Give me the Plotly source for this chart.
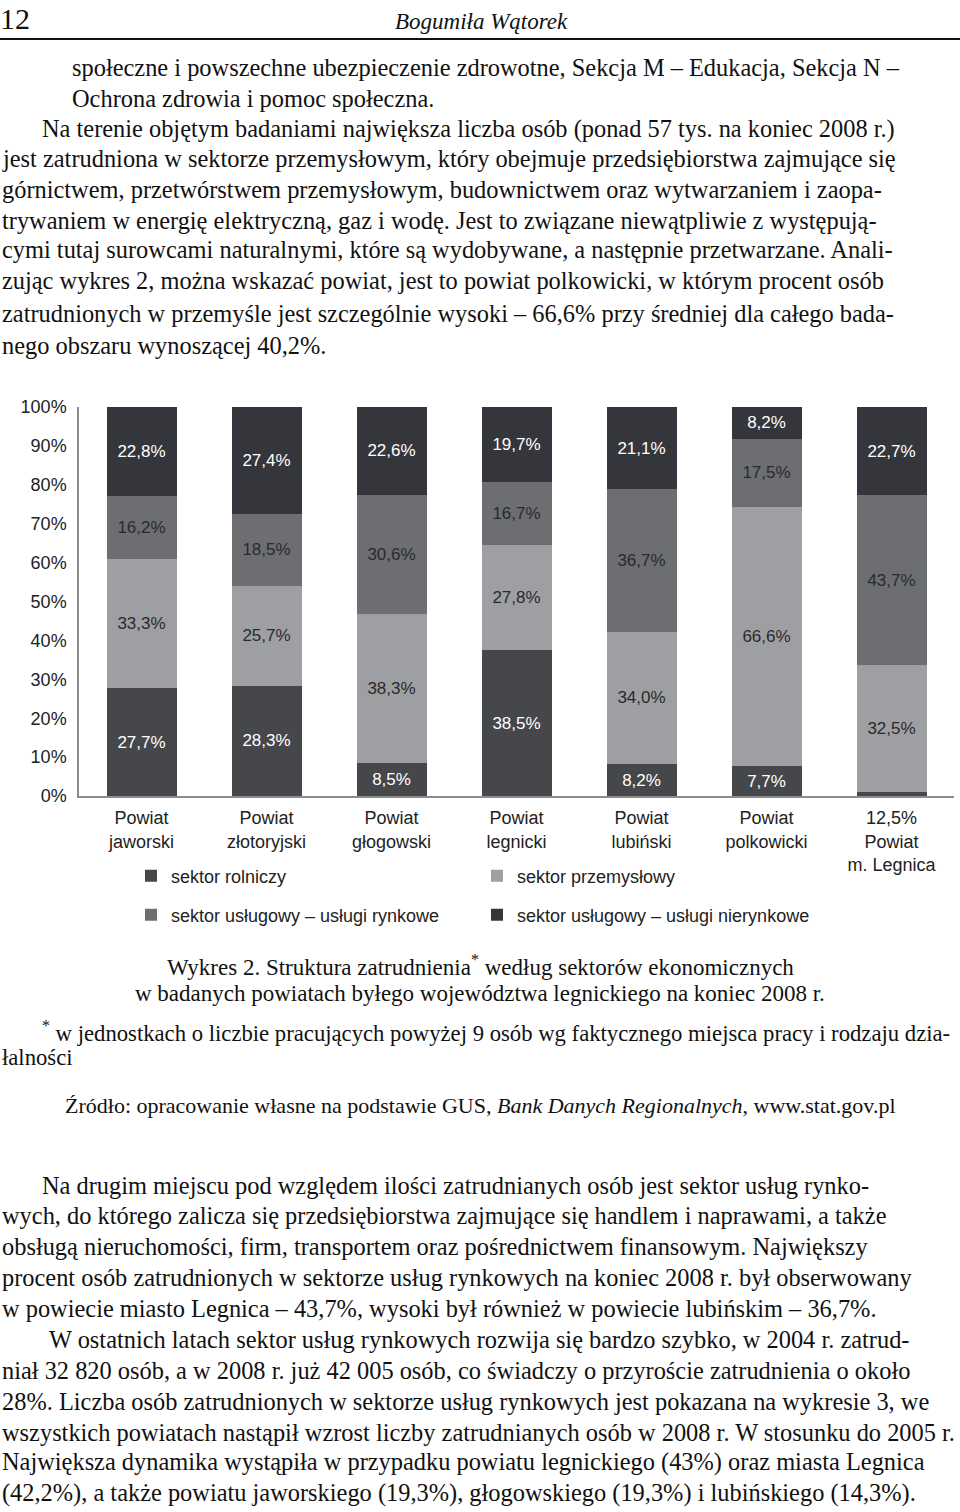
import plotly.graph_objects as go

# districts (tick labels) and sector shares, bottom -> top of each bar
districts = ["Powiat<br>jaworski", "Powiat<br>złotoryjski", "Powiat<br>głogowski",
             "Powiat<br>legnicki", "Powiat<br>lubiński", "Powiat<br>polkowicki",
             "12,5%<br>Powiat<br>m. Legnica"]
rolniczy = [27.7, 28.3, 8.5, 38.5, 8.2, 7.7, 1.1]
przemyslowy = [33.3, 25.7, 38.3, 27.8, 34.0, 66.6, 32.5]
rynkowe = [16.2, 18.5, 30.6, 16.7, 36.7, 17.5, 43.7]
nierynkowe = [22.8, 27.4, 22.6, 19.7, 21.1, 8.2, 22.7]
y_ticks = [0, 10, 20, 30, 40, 50, 60, 70, 80, 90, 100]
y_labels = ["0%", "10%", "20%", "30%", "40%", "50%", "60%", "70%", "80%", "90%", "100%"]

# page text
header_num = "12"
header_author = "Bogumiła Wątorek"
para_top = [
    (70, "społeczne i powszechne ubezpieczenie zdrowotne, Sekcja M – Edukacja, Sekcja N –"),
    (70, "Ochrona zdrowia i pomoc społeczna."),
    (40, "Na terenie objętym badaniami największa liczba osób (ponad 57 tys. na koniec 2008 r.)"),
    (0, "jest zatrudniona w sektorze przemysłowym, który obejmuje przedsiębiorstwa zajmujące się"),
    (0, "górnictwem, przetwórstwem przemysłowym, budownictwem oraz wytwarzaniem i zaopa-"),
    (0, "trywaniem w energię elektryczną, gaz i wodę. Jest to związane niewątpliwie z występują-"),
    (0, "cymi tutaj surowcami naturalnymi, które są wydobywane, a następnie przetwarzane. Anali-"),
    (0, "zując wykres 2, można wskazać powiat, jest to powiat polkowicki, w którym procent osób"),
    (0, "zatrudnionych w przemyśle jest szczególnie wysoki – 66,6% przy średniej dla całego bada-"),
    (0, "nego obszaru wynoszącej 40,2%."),
]
caption = ["Wykres 2. Struktura zatrudnienia<sup>*</sup> według sektorów ekonomicznych",
           "w badanych powiatach byłego województwa legnickiego na koniec 2008 r."]
footnote = [(40, "<sup>*</sup> w jednostkach o liczbie pracujących powyżej 9 osób wg faktycznego miejsca pracy i rodzaju dzia-"),
            (0, "łalności")]
source = "Źródło: opracowanie własne na podstawie GUS, <i>Bank Danych Regionalnych</i>, www.stat.gov.pl"
para_bottom = [
    (40, "Na drugim miejscu pod względem ilości zatrudnianych osób jest sektor usług rynko-"),
    (0, "wych, do którego zalicza się przedsiębiorstwa zajmujące się handlem i naprawami, a także"),
    (0, "obsługą nieruchomości, firm, transportem oraz pośrednictwem finansowym. Największy"),
    (0, "procent osób zatrudnionych w sektorze usług rynkowych na koniec 2008 r. był obserwowany"),
    (0, "w powiecie miasto Legnica – 43,7%, wysoki był również w powiecie lubińskim – 36,7%."),
    (47, "W ostatnich latach sektor usług rynkowych rozwija się bardzo szybko, w 2004 r. zatrud-"),
    (0, "niał 32 820 osób, a w 2008 r. już 42 005 osób, co świadczy o przyroście zatrudnienia o około"),
    (0, "28%. Liczba osób zatrudnionych w sektorze usług rynkowych jest pokazana na wykresie 3, we"),
    (0, "wszystkich powiatach nastąpił wzrost liczby zatrudnianych osób w 2008 r. W stosunku do 2005 r."),
    (0, "Największa dynamika wystąpiła w przypadku powiatu legnickiego (43%) oraz miasta Legnica"),
    (0, "(42,2%), a także powiatu jaworskiego (19,3%), głogowskiego (19,3%) i lubińskiego (14,3%)."),
]

W, H = 960, 1512
L, R, T, B = 79, 954, 407, 796   # plot area in pixels


def px(x):
    return (x - L) / (R - L)


def py(y):
    return (B - y) / (B - T)


def pct(v):
    return [f"{s:.1f}%".replace(".", ",") for s in v]


SANS = "Liberation Sans, Arial, sans-serif"
SERIF = "Liberation Serif, Times New Roman, serif"

fig = go.Figure()

series = [
    ("sektor rolniczy", rolniczy, "#46474b", "white", "legend"),
    ("sektor przemysłowy", przemyslowy, "#9e9fa3", "#2a2a2c", "legend"),
    ("sektor usługowy – usługi rynkowe", rynkowe, "#6d6e72", "#2a2a2c", "legend2"),
    ("sektor usługowy – usługi nierynkowe", nierynkowe, "#35363b", "white", "legend2"),
]
for name, vals, color, tcol, leg in series:
    txt = pct(vals)
    if name == "sektor rolniczy":
        txt[-1] = " "   # Legnica label printed under the bar
    fig.add_trace(go.Bar(
        x=districts, y=vals, name=name, legend=leg,
        marker=dict(color=color, line=dict(width=0)),
        text=txt, textposition="inside", insidetextanchor="middle",
        constraintext="none",
        textfont=dict(family=SANS, size=17, color=tcol),
    ))

fig.update_layout(
    width=W, height=H,
    margin=dict(l=L, r=W - R, t=T, b=H - B, autoexpand=False),
    barmode="stack", barnorm="percent", bargap=0.44,
    plot_bgcolor="white", paper_bgcolor="white",
    font=dict(family=SANS, size=18, color="#222"),
    xaxis=dict(showline=True, linecolor="#8c8c8c", linewidth=1.5, ticks="",
               tickfont=dict(size=18, color="#222"), range=[-0.5, 6.5],
               ticklabelstandoff=5),
    yaxis=dict(range=[0, 100], tickvals=y_ticks, ticktext=y_labels, showgrid=False,
               showline=True, linecolor="#8c8c8c", linewidth=1.5, ticks="",
               tickfont=dict(size=18, color="#222"), zeroline=False,
               ticklabelstandoff=7),
    legend=dict(orientation="h", x=px(131), y=py(876), xanchor="left", yanchor="middle",
                entrywidth=301, font=dict(size=18, color="#222"), traceorder="normal",
                bgcolor="rgba(0,0,0,0)"),
    legend2=dict(orientation="h", x=px(131), y=py(915), xanchor="left", yanchor="middle",
                 entrywidth=301, font=dict(size=18, color="#222"), traceorder="normal",
                 bgcolor="rgba(0,0,0,0)"),
    showlegend=True,
)

ann = []


def txt(x, y, s, size=24.4, anchor="left", italic=False):
    ann.append(dict(x=px(x), y=py(y), xref="paper", yref="paper", text=s, showarrow=False,
                    xanchor=anchor, yanchor="middle",
                    font=dict(family=SERIF, size=size, color="#111",
                              style="italic" if italic else "normal")))


txt(-2, 18, header_num, size=30)
txt(481, 21, header_author, size=23, anchor="center", italic=True)
ys = [67, 98, 129, 159, 190, 220, 250, 281, 313, 345]
for (x0, line), y in zip(para_top, ys):
    txt(x0, y, line)
txt(480, 965, caption[0], size=23, anchor="center")
txt(480, 993, caption[1], size=23, anchor="center")
txt(footnote[0][0], 1031, footnote[0][1], size=22.7)
txt(footnote[1][0], 1057, footnote[1][1], size=22.7)
txt(480, 1105, source, size=22, anchor="center")
ys = [1185, 1215, 1246, 1277, 1308, 1339, 1370, 1401, 1432, 1462, 1493]
for (x0, line), y in zip(para_bottom, ys):
    txt(x0, y, line)

fig.update_layout(annotations=ann)
fig.add_shape(type="line", xref="paper", yref="paper", x0=px(0), x1=px(960),
              y0=py(39), y1=py(39), line=dict(color="#111", width=2))

# the page is a full sheet: drop the default body margin of the html page
fig.write_html("out.html", config={"displayModeBar": False},
               post_script="document.body.style.margin='0px';")
